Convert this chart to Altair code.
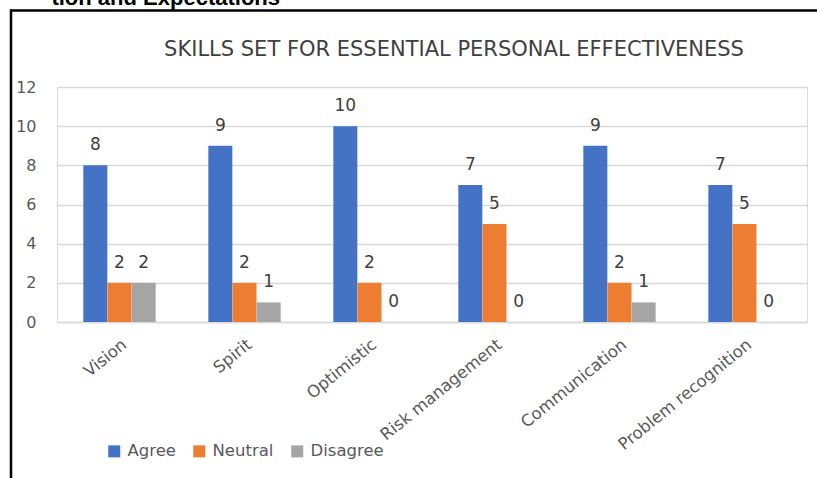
import altair as alt
import pandas as pd

# Survey responses per skill
skills = ["Vision", "Spirit", "Optimistic", "Risk management",
          "Communication", "Problem recognition"]
responses = ["Agree", "Neutral", "Disagree"]
agree = [8, 9, 10, 7, 9, 7]
neutral = [2, 2, 2, 5, 2, 5]
disagree = [2, 1, 0, 0, 1, 0]
palette = ["#4472C4", "#ED7D31", "#A5A5A5"]
y_ticks = [0, 2, 4, 6, 8, 10, 12]

rows = []
for i, skill in enumerate(skills):
    for resp, vals in zip(responses, [agree, neutral, disagree]):
        rows.append({"skill": skill, "response": resp, "count": vals[i]})
df = pd.DataFrame(rows)

FONT = "DejaVu Sans"
LABEL_GREY = "#595959"
TEXT_GREY = "#404040"

x_enc = alt.X(
    "skill:N", sort=skills,
    scale=alt.Scale(paddingInner=0.42, paddingOuter=0.21),
    axis=alt.Axis(title=None, labelAngle=-39, labelFontSize=16.5,
                  labelColor=LABEL_GREY, labelFont=FONT, ticks=False,
                  labelPadding=14, domainColor="#D9D9D9", domainWidth=1.5,
                  labelAlign="right", labelBaseline="top"),
)
xo_enc = alt.XOffset("response:N", sort=responses,
                     scale=alt.Scale(paddingInner=0, paddingOuter=0))
y_enc = alt.Y(
    "count:Q", scale=alt.Scale(domain=[0, 12], nice=False),
    axis=alt.Axis(title=None, values=y_ticks, labelFontSize=16,
                  labelColor=LABEL_GREY, labelFont=FONT, ticks=False,
                  domain=False, labelPadding=21, gridColor="#D9D9D9",
                  gridWidth=1.5),
)
color_enc = alt.Color(
    "response:N", sort=responses,
    scale=alt.Scale(domain=responses, range=palette),
    legend=alt.Legend(title=None, orient="none", direction="horizontal",
                      legendX=49, legendY=356, symbolType="square",
                      symbolSize=144, symbolStrokeWidth=0,
                      labelFont=FONT, labelFontSize=16.5,
                      labelColor=LABEL_GREY, columnPadding=15,
                      labelOffset=5, padding=0),
)

base = alt.Chart(df).encode(x=x_enc, xOffset=xo_enc, y=y_enc)

bars = base.mark_bar(size=24).encode(color=color_enc)

labels = base.mark_text(font=FONT, fontSize=17, color=TEXT_GREY,
                        baseline="middle", dy=-20).encode(
    text=alt.Text("count:Q"))

one = alt.Chart(pd.DataFrame({"k": [0]}))

# Frame around the figure
left_edge = one.mark_rule(color="black", strokeWidth=2.5).encode(
    x=alt.value(-46), y=alt.value(-77.5), y2=alt.value(400))
top_edge = one.mark_rule(color="black", strokeWidth=2.5).encode(
    x=alt.value(-47), x2=alt.value(770), y=alt.value(-76.5))

# Section heading above the frame
heading = one.mark_text(font="Liberation Sans", fontWeight="bold",
                        fontSize=22, color="black", align="right",
                        baseline="alphabetic").encode(
    x=alt.value(223), y=alt.value(-82),
    text=alt.value("tion and Expectations"))

title = one.mark_text(font=FONT, fontSize=21, color=TEXT_GREY,
                      align="center", baseline="middle").encode(
    x=alt.value(397), y=alt.value(-37),
    text=alt.value("SKILLS SET FOR ESSENTIAL PERSONAL EFFECTIVENESS"))

chart = alt.layer(bars, labels, left_edge, top_edge, heading, title).properties(
    width=750, height=235,
    autosize=alt.AutoSizeParams(type="none"),
    padding={"left": 57, "top": 87, "right": 10, "bottom": 156},
).configure_view(stroke=None).configure(background="white")

chart.save("out.html", embed_options={"renderer": "svg", "actions": False})
